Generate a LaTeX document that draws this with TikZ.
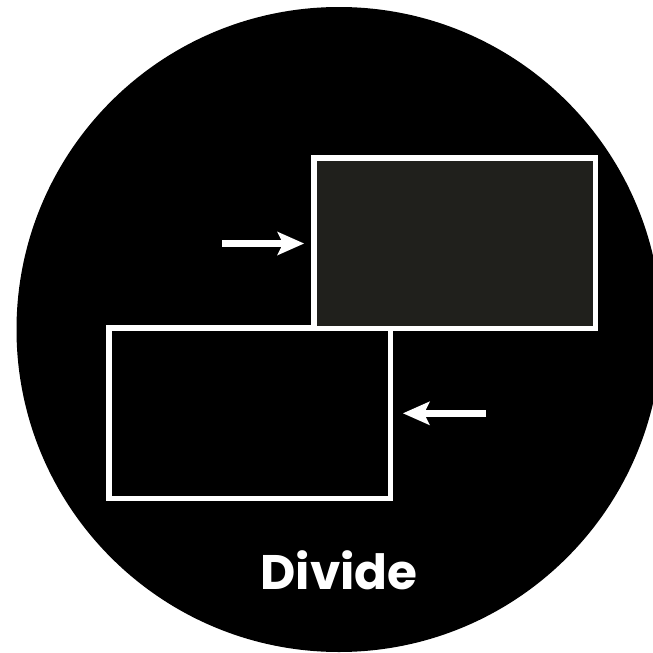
\documentclass[tikz,border=0pt]{standalone}
\usepackage{fontspec}
\newfontfamily\pop{Poppins}
\usetikzlibrary{arrows.meta}
\definecolor{panel}{HTML}{20201C}
\tikzset{
  frame/.style={draw=white, line width=5.5pt, inner sep=0pt, minimum width=281.5pt, minimum height=170.5pt},
  pointer/.style={draw=white, line width=7pt, -{Stealth[length=27pt,width=24pt,inset=6pt,line width=0pt]}},
  label/.style={text=white, font=\pop\bfseries\fontsize{48.5}{58}\selectfont, anchor=base, inner sep=0pt}
}
\begin{document}
\begin{tikzpicture}[x=1pt,y=-1pt]
\useasboundingbox (0,0) rectangle (653,653);
\clip (0,0) rectangle (653,653);
\fill[white] (0,0) rectangle (653,653);
\fill[black] (339,329.5) circle[radius=322.5pt];
\node[frame, fill=black] (lower) at (249.5,413) {};
\node[frame, fill=panel] (upper) at (454.5,243) {};
\coordinate (s1) at (222,243.5);
\coordinate (s2) at (486,413.3);
\draw[pointer] (s1) -- ([xshift=-7pt]upper.west |- s1);
\draw[pointer] (s2) -- ([xshift=10pt]lower.east |- s2);
\node[label] (title) at (339,589) {Divide};
\end{tikzpicture}
\end{document}
